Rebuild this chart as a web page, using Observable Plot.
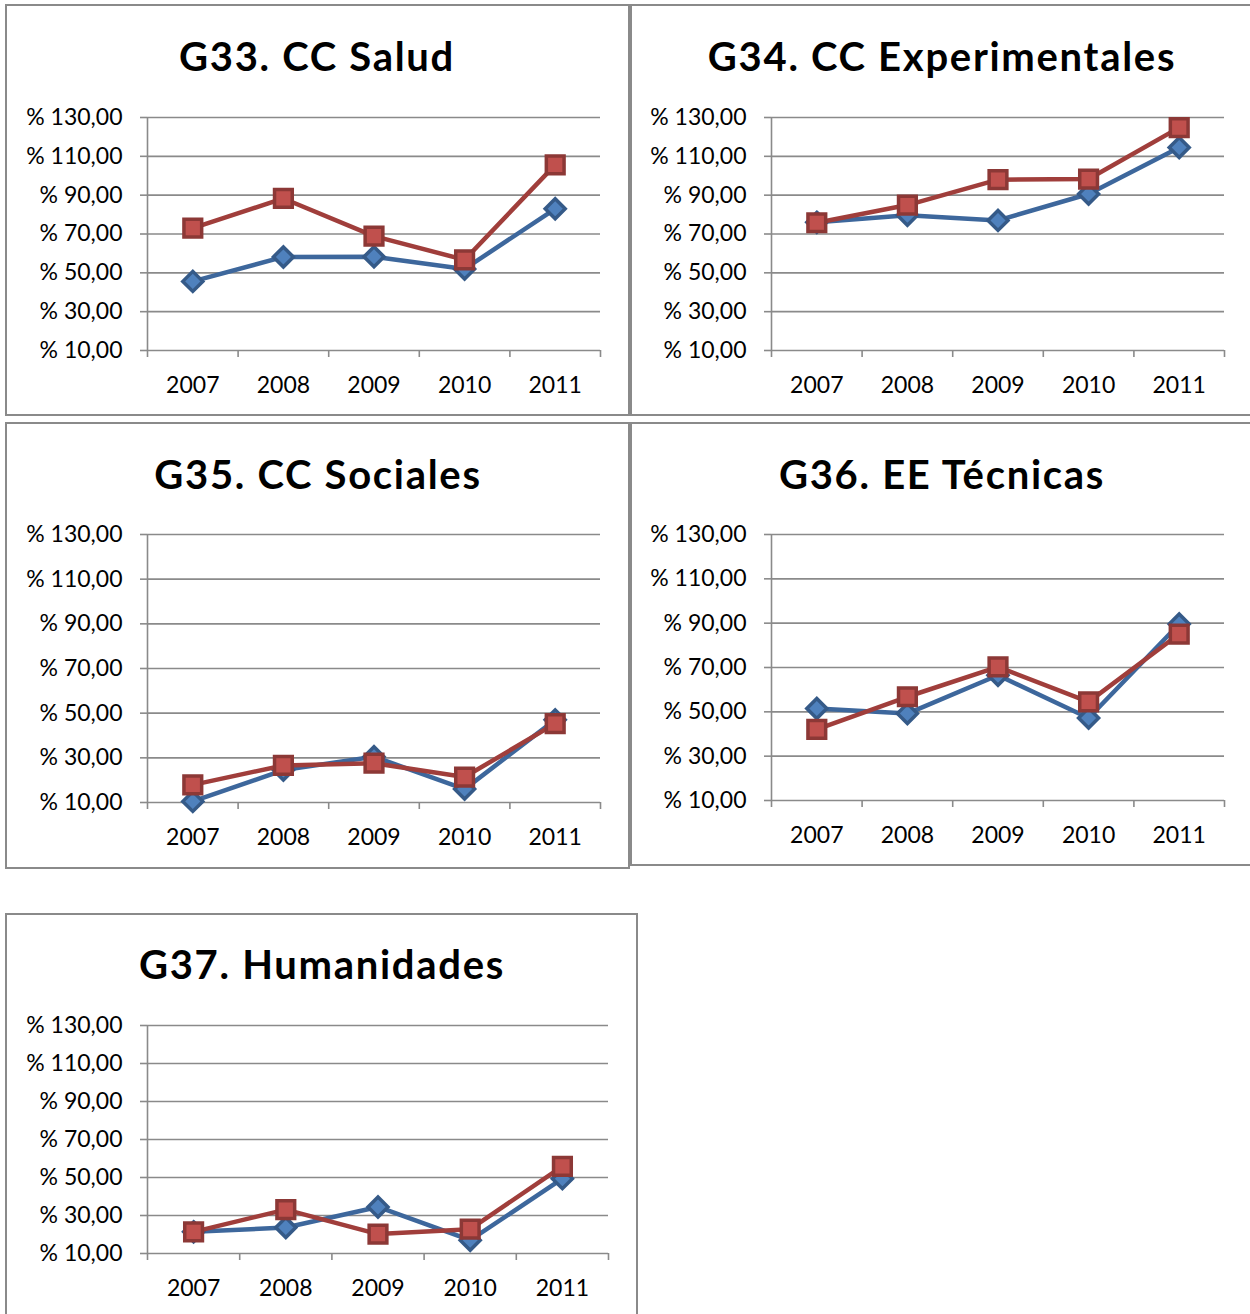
<!DOCTYPE html>
<html>
<head>
<meta charset="utf-8">
<script src="https://cdn.jsdelivr.net/npm/d3@7"></script>
<script src="https://cdn.jsdelivr.net/npm/@observablehq/plot@0.6"></script>
<style>
  html, body { margin: 0; padding: 0; background: #fff; }
  #page { position: relative; width: 1250px; height: 1314px; overflow: hidden; background: #fff; font-family: Lato, "Open Sans", sans-serif; }
  .box { position: absolute; border: 2px solid #8a8a8a; box-sizing: border-box; background: #fff; }
  .title { position: absolute; font-weight: 700; font-size: 40px; letter-spacing: 1.7px; line-height: 1; white-space: nowrap; transform: translate(-50%, -50%); color: #000; }
  .chart { position: absolute; }
</style>
</head>
<body>
<div id="page"></div>
<script>
// ---- data ----
const years = [2007, 2008, 2009, 2010, 2011];
const yTicks = [10, 30, 50, 70, 90, 110, 130];
const titles = ["G33. CC Salud", "G34. CC Experimentales", "G35. CC Sociales", "G36. EE Técnicas", "G37. Humanidades"];

const g33Blue = [45.6, 58.2, 58.3, 52.0, 83.0];
const g33Red  = [73.0, 88.3, 68.9, 56.7, 105.6];

const g34Blue = [76.0, 79.6, 77.0, 90.6, 114.5];
const g34Red  = [75.8, 84.9, 98.0, 98.3, 124.8];

const g35Blue = [10.5, 24.5, 30.5, 16.0, 47.0];
const g35Red  = [17.9, 26.6, 27.6, 21.4, 45.3];

const g36Blue = [51.5, 49.2, 66.5, 47.2, 89.6];
const g36Red  = [42.1, 56.8, 70.3, 54.5, 85.1];

const g37Blue = [21.4, 23.7, 34.5, 17.0, 49.4];
const g37Red  = [21.4, 33.1, 20.2, 22.8, 55.9];

const blueSeries = [g33Blue, g34Blue, g35Blue, g36Blue, g37Blue];
const redSeries  = [g33Red, g34Red, g35Red, g36Red, g37Red];

// ---- layout ----
const layouts = [
  {box: [5, 4, 630, 416],     plot: [147, 600, 117, 350],   title: [317, 56]},
  {box: [630, 4, 1256, 416],  plot: [771, 1224, 117, 350],  title: [942, 56]},
  {box: [5, 422, 630, 869],   plot: [147, 600, 534, 802],   title: [318, 474]},
  {box: [630, 422, 1256, 866],plot: [771, 1224, 534, 800],  title: [942, 474]},
  {box: [5, 913, 638, 1320],  plot: [147, 608, 1025, 1253], title: [322, 964]}
];

const gridColor = "#8a8a8a";
const blueLine = "#3d679c", blueFill = "#4f81bd", blueEdge = "#355a88";
const redLine = "#a03e3b", redFill = "#c0504d", redEdge = "#8c3836";
const fmt = d => "% " + d.toFixed(2).replace(".", ",");
const boundaries = [2006.5, 2007.5, 2008.5, 2009.5, 2010.5, 2011.5];

const page = document.getElementById("page");

layouts.forEach((L, i) => {
  const [bl, bt, br, bb] = L.box;
  const box = document.createElement("div");
  box.className = "box";
  Object.assign(box.style, {left: bl + "px", top: bt + "px", width: (br - bl) + "px", height: (bb - bt) + "px"});
  page.appendChild(box);

  const t = document.createElement("div");
  t.className = "title";
  t.textContent = titles[i];
  t.style.left = L.title[0] + "px";
  t.style.top = L.title[1] + "px";
  page.appendChild(t);

  const [pl, pr, pt, pb] = L.plot;
  const svgLeft = bl + 2, svgTop = pt - 25;
  const width = Math.min(br, 1250) - svgLeft;
  const mt = 25, mb = 60;
  const height = (pb - pt) + mt + mb;

  const blue = years.map((y, k) => ({year: y, value: blueSeries[i][k]}));
  const red = years.map((y, k) => ({year: y, value: redSeries[i][k]}));

  const chart = Plot.plot({
    width, height,
    marginLeft: pl - svgLeft,
    marginRight: width - (pr - svgLeft),
    marginTop: mt,
    marginBottom: mb,
    x: {type: "linear", domain: [2006.5, 2011.5]},
    y: {domain: [10, 130]},
    style: {fontFamily: "Lato, 'Open Sans', sans-serif", fontSize: "23px", color: "#000", background: "transparent", overflow: "visible"},
    marks: [
      Plot.gridY(yTicks, {stroke: gridColor, strokeOpacity: 1, strokeWidth: 1.6}),
      Plot.axisY({ticks: yTicks, tickFormat: fmt, tickSize: 7, tickPadding: 18, stroke: gridColor, strokeWidth: 1.6, fill: "#000", label: null, fontSize: 23}),
      Plot.axisX({ticks: boundaries, tickFormat: () => "", tickSize: 7, stroke: gridColor, strokeWidth: 1.6, label: null}),
      Plot.axisX({ticks: years, tickFormat: d => String(d), tickSize: 0, tickPadding: 26, fill: "#000", label: null, fontSize: 23}),
      Plot.ruleX([2006.5], {y1: 10, y2: 130, stroke: gridColor, strokeWidth: 1.6}),
      Plot.line(blue, {x: "year", y: "value", stroke: blueLine, strokeWidth: 4.5}),
      Plot.dot(blue, {x: "year", y: "value", symbol: "diamond2", r: 9, fill: blueFill, stroke: blueEdge, strokeWidth: 3.5}),
      Plot.line(red, {x: "year", y: "value", stroke: redLine, strokeWidth: 4.5}),
      Plot.dot(red, {x: "year", y: "value", symbol: "square", r: 10, fill: redFill, stroke: redEdge, strokeWidth: 3.5})
    ]
  });
  chart.classList.add("chart");
  chart.style.position = "absolute";
  chart.style.left = svgLeft + "px";
  chart.style.top = svgTop + "px";
  page.appendChild(chart);
});
</script>
</body>
</html>
